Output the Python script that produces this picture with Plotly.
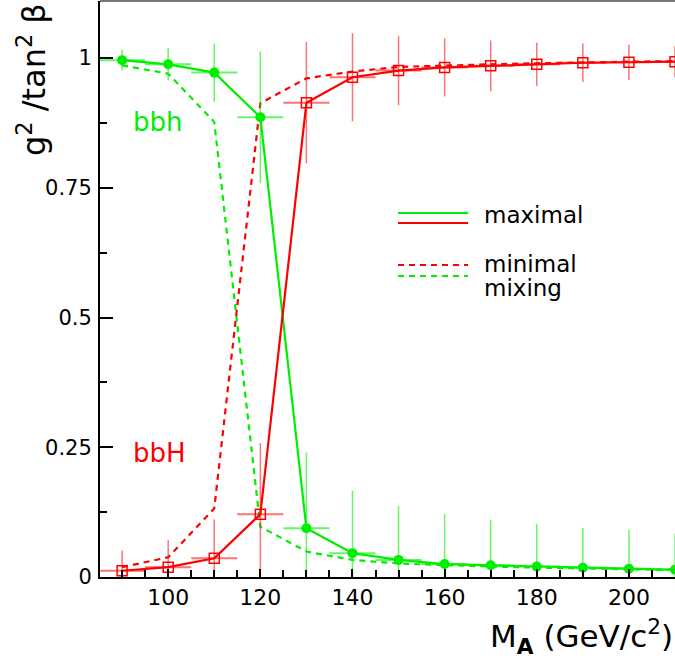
import plotly.graph_objects as go

# ---------------- data ----------------
mA = [90, 100, 110, 120, 130, 140, 150, 160, 170, 180, 190, 200, 210]

bbh_maximal = [0.996, 0.988, 0.972, 0.886, 0.094, 0.046, 0.033, 0.025, 0.0225, 0.020, 0.018, 0.016, 0.014]
bbh_maximal_err = [0.020, 0.031, 0.056, 0.127, 0.146, 0.120, 0.104, 0.096, 0.087, 0.082, 0.077, 0.075, 0.070]

bbH_maximal = [0.012, 0.019, 0.036, 0.121, 0.914, 0.963, 0.976, 0.982, 0.985, 0.988, 0.991, 0.992, 0.993]
bbH_maximal_err = [0.039, 0.052, 0.075, 0.137, 0.117, 0.085, 0.067, 0.056, 0.049, 0.042, 0.037, 0.034, 0.030]

mA_err = [5] * len(mA)

bbh_minimal = [0.986, 0.970, 0.877, 0.097, 0.049, 0.033, 0.026, 0.0225, 0.020, 0.018, 0.016, 0.015, 0.014]
bbH_minimal = [0.019, 0.038, 0.132, 0.913, 0.961, 0.974, 0.983, 0.986, 0.988, 0.990, 0.992, 0.993, 0.994]

y_ticks = [0, 0.25, 0.5, 0.75, 1]
y_ticktext = ["0", "0.25", "0.5", "0.75", "1"]
x_ticks = [100, 120, 140, 160, 180, 200]

GREEN = "#00ee00"
RED = "#ff0000"
GREEN_ERR = "rgba(0,238,0,0.6)"
RED_ERR = "rgba(255,0,0,0.55)"
FONT = "DejaVu Sans, Liberation Sans, sans-serif"

W, H = 675, 662
L, R, T, B = 100, 0, 1, 85
pw, ph = W - L - R, H - T - B


def px(x):
    return (x - L) / pw


def py(y):
    return (H - B - y) / ph


fig = go.Figure()

# minimal mixing (dashed)
fig.add_trace(go.Scatter(x=mA, y=bbh_minimal, mode="lines",
                         line=dict(color=GREEN, width=2.2, dash="6px,5px"),
                         showlegend=False))
fig.add_trace(go.Scatter(x=mA, y=bbH_minimal, mode="lines",
                         line=dict(color=RED, width=2.2, dash="6px,5px"),
                         showlegend=False))

# maximal mixing with error bars
fig.add_trace(go.Scatter(x=mA, y=bbh_maximal, mode="lines+markers",
                         line=dict(color=GREEN, width=2.2),
                         marker=dict(symbol="circle", size=10, color=GREEN),
                         error_y=dict(type="data", array=bbh_maximal_err, color=GREEN_ERR,
                                      thickness=1.5, width=0),
                         error_x=dict(type="data", array=mA_err, color=GREEN_ERR,
                                      thickness=2, width=0),
                         showlegend=False))
fig.add_trace(go.Scatter(x=mA, y=bbH_maximal, mode="lines+markers",
                         line=dict(color=RED, width=2.2),
                         marker=dict(symbol="square-open", size=10, color=RED,
                                     line=dict(width=1.5, color=RED)),
                         error_y=dict(type="data", array=bbH_maximal_err, color=RED_ERR,
                                      thickness=1.5, width=0),
                         error_x=dict(type="data", array=mA_err, color=RED_ERR,
                                      thickness=2, width=0),
                         showlegend=False))

# legend drawn manually
shapes = [
    dict(type="line", xref="paper", yref="paper", x0=px(398), x1=px(468), y0=py(213), y1=py(213),
         line=dict(color=GREEN, width=2.2)),
    dict(type="line", xref="paper", yref="paper", x0=px(398), x1=px(468), y0=py(223), y1=py(223),
         line=dict(color=RED, width=2.2)),
    dict(type="line", xref="paper", yref="paper", x0=px(398), x1=px(468), y0=py(265), y1=py(265),
         line=dict(color=RED, width=2.2, dash="6px,5px")),
    dict(type="line", xref="paper", yref="paper", x0=px(398), x1=px(468), y0=py(276), y1=py(276),
         line=dict(color=GREEN, width=2.2, dash="6px,5px")),
    dict(type="line", xref="paper", yref="paper", x0=0, x1=1, y0=1, y1=1,
         line=dict(color="#777777", width=2)),
]

annotations = [
    dict(text="maximal", xref="paper", yref="paper", x=px(482), y=py(215),
         xanchor="left", yanchor="middle", showarrow=False, font=dict(size=23, color="black", family=FONT)),
    dict(text="minimal", xref="paper", yref="paper", x=px(482), y=py(264),
         xanchor="left", yanchor="middle", showarrow=False, font=dict(size=23, color="black", family=FONT)),
    dict(text="mixing", xref="paper", yref="paper", x=px(482), y=py(288),
         xanchor="left", yanchor="middle", showarrow=False, font=dict(size=23, color="black", family=FONT)),
    dict(text="bbh", xref="paper", yref="paper", x=px(158), y=py(122),
         xanchor="center", yanchor="middle", showarrow=False, font=dict(size=26, color=GREEN, family=FONT)),
    dict(text="bbH", xref="paper", yref="paper", x=px(159), y=py(453),
         xanchor="center", yanchor="middle", showarrow=False, font=dict(size=26, color=RED, family=FONT)),
    dict(text="g<sup>2</sup> /tan<sup>2</sup> β", xref="paper", yref="paper", x=px(32), y=py(80),
         xanchor="center", yanchor="middle", textangle=-90, showarrow=False,
         font=dict(size=32, color="black", family=FONT)),
    dict(text="M<sub><b>A</b></sub> (GeV/c<sup>2</sup>)", xref="paper", yref="paper", x=1.0, y=py(636),
         xanchor="right", yanchor="middle", showarrow=False,
         font=dict(size=31, color="black", family=FONT)),
]

fig.update_layout(
    width=W, height=H,
    margin=dict(l=L, r=R, t=T, b=B, pad=0),
    paper_bgcolor="white", plot_bgcolor="white",
    shapes=shapes, annotations=annotations,
    font=dict(family=FONT, color="black"),
    xaxis=dict(range=[85.2, 210], showgrid=False, zeroline=False,
               showline=True, linecolor="black", linewidth=2,
               tickmode="array", tickvals=x_ticks,
               ticks="inside", ticklen=8, tickwidth=2, tickcolor="black",
               tickfont=dict(size=22, family=FONT, color="black"),
               minor=dict(tick0=0, dtick=5, ticks="inside", ticklen=7, tickwidth=2, tickcolor="black"),
               ticklabelstandoff=0),
    yaxis=dict(range=[0, 1.11], showgrid=False, zeroline=False,
               showline=True, linecolor="black", linewidth=2,
               tickmode="array", tickvals=y_ticks, ticktext=y_ticktext,
               ticks="inside", ticklen=13, tickwidth=2, tickcolor="black",
               tickfont=dict(size=21, family=FONT, color="black"),
               minor=dict(tick0=0, dtick=0.125, ticks="inside", ticklen=7, tickwidth=2, tickcolor="black"),
               ticklabelstandoff=2),
)

fig.write_html("out.html", config={"displayModeBar": False},
               post_script="document.body.style.margin='0';document.body.style.overflow='hidden';")
